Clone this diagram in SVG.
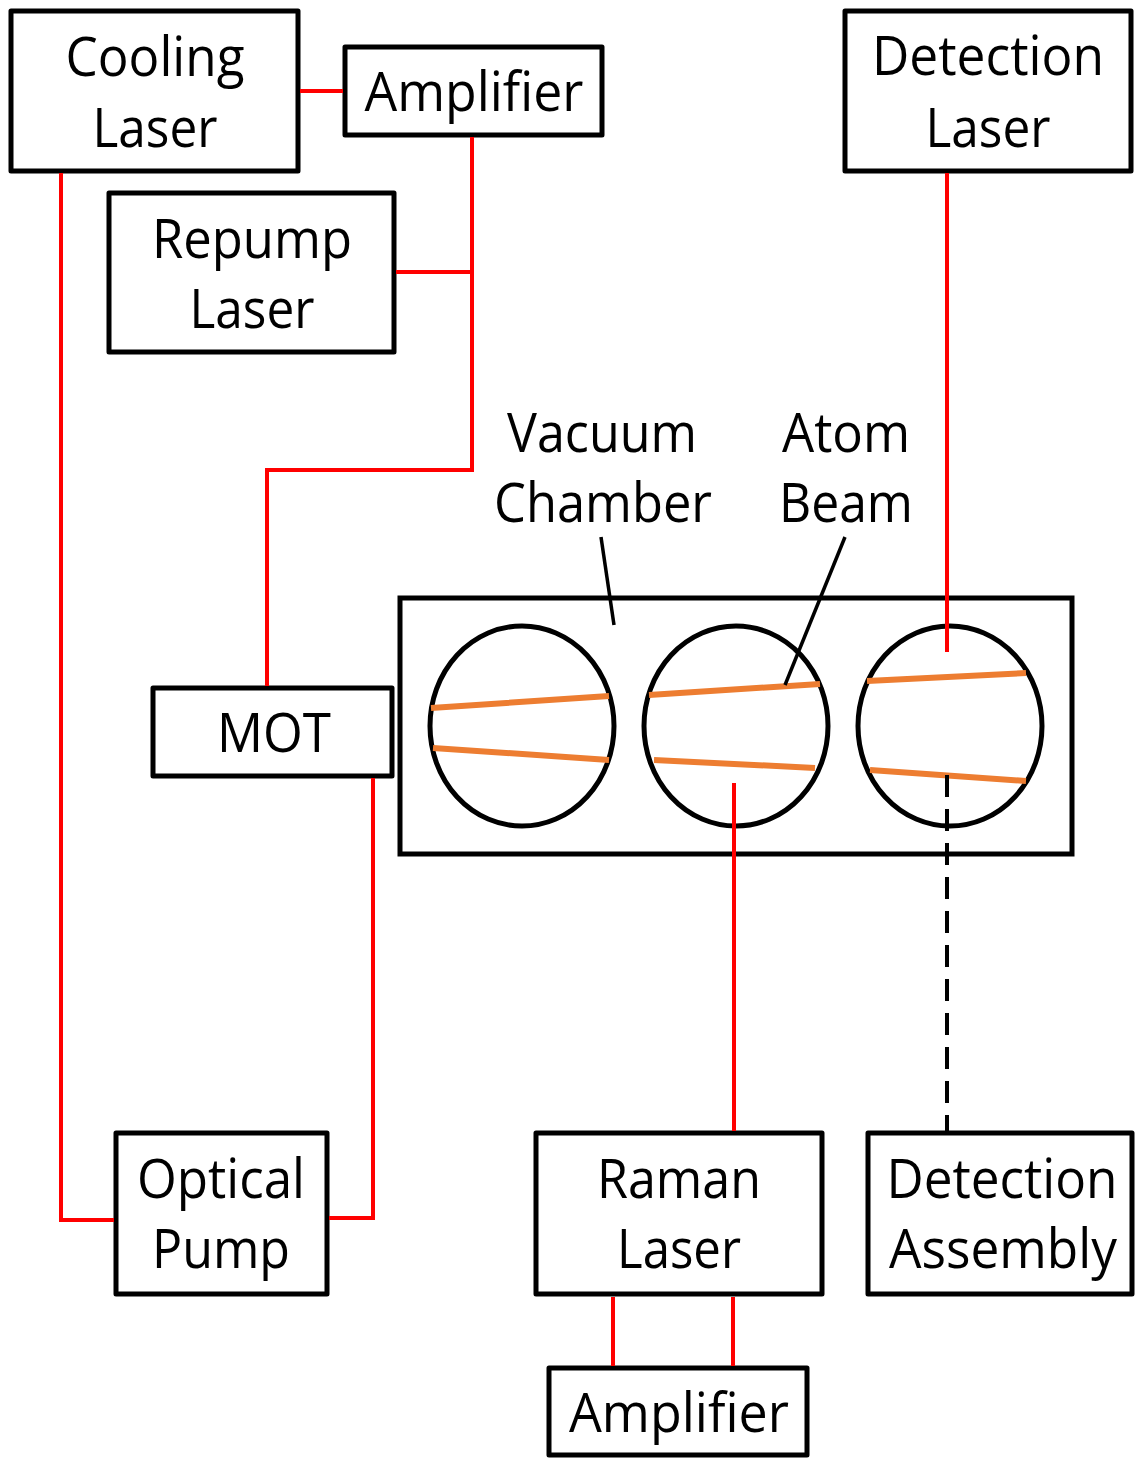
<svg xmlns="http://www.w3.org/2000/svg" width="1135" height="1458" viewBox="0 0 1135 1458">
<style>
.box{fill:#fff;stroke:#000;stroke-width:5;stroke-linejoin:round}
.t{font-family:"Open Sans","Noto Sans","Liberation Sans",sans-serif;font-size:54px;fill:#000;text-anchor:middle}
.red{fill:none;stroke:#f00;stroke-width:4}
.beam{stroke:#ED7D31;stroke-width:6;fill:none}
.lead{stroke:#000;stroke-width:3.5;fill:none}
.win{fill:none;stroke:#000;stroke-width:5}
</style>
<rect width="1135" height="1458" fill="#fff"/>
<g id="cooling-laser">
<rect class="box" x="11" y="11" width="287" height="160"/>
<text class="t" x="155" y="76" textLength="179" lengthAdjust="spacingAndGlyphs">Cooling</text>
<text class="t" x="155" y="147" textLength="125" lengthAdjust="spacingAndGlyphs">Laser</text>
</g>
<g id="amplifier-top">
<rect class="box" x="345" y="47" width="257" height="88"/>
<text class="t" x="474" y="111" textLength="219" lengthAdjust="spacingAndGlyphs">Amplifier</text>
</g>
<g id="repump-laser">
<rect class="box" x="109" y="193" width="285" height="159"/>
<text class="t" x="252" y="258" textLength="200" lengthAdjust="spacingAndGlyphs">Repump</text>
<text class="t" x="252" y="328" textLength="125" lengthAdjust="spacingAndGlyphs">Laser</text>
</g>
<g id="detection-laser">
<rect class="box" x="845" y="11" width="286" height="160"/>
<text class="t" x="988" y="75" textLength="232" lengthAdjust="spacingAndGlyphs">Detection</text>
<text class="t" x="988" y="147" textLength="125" lengthAdjust="spacingAndGlyphs">Laser</text>
</g>
<g id="mot">
<rect class="box" x="153" y="688" width="239" height="88"/>
<text class="t" x="274" y="752" textLength="114" lengthAdjust="spacingAndGlyphs">MOT</text>
</g>
<g id="vacuum-chamber">
<rect x="400" y="598" width="672" height="256" fill="none" stroke="#000" stroke-width="5"/>
<ellipse class="win" cx="522" cy="726" rx="92" ry="100"/>
<ellipse class="win" cx="736" cy="726" rx="92" ry="100"/>
<ellipse class="win" cx="950" cy="726" rx="92" ry="100"/>
<path class="beam" d="M431,708L609,696M433,748L609,760"/>
<path class="beam" d="M649,695L820,684M654,760L815,768"/>
<path class="beam" d="M867,681L1026,673M870,770L1026,781"/>
</g>
<g id="vacuum-chamber-label">
<text class="t" x="602" y="452" textLength="190" lengthAdjust="spacingAndGlyphs">Vacuum</text>
<text class="t" x="603" y="522" textLength="218" lengthAdjust="spacingAndGlyphs">Chamber</text>
<path class="lead" d="M601,537L614,625"/>
</g>
<g id="atom-beam-label">
<text class="t" x="846" y="452" textLength="128" lengthAdjust="spacingAndGlyphs">Atom</text>
<text class="t" x="846" y="522" textLength="134" lengthAdjust="spacingAndGlyphs">Beam</text>
<path class="lead" d="M845,537L785,685"/>
</g>
<g id="optical-pump">
<rect class="box" x="116" y="1133" width="211" height="161"/>
<text class="t" x="221" y="1198" textLength="168" lengthAdjust="spacingAndGlyphs">Optical</text>
<text class="t" x="221" y="1268" textLength="138" lengthAdjust="spacingAndGlyphs">Pump</text>
</g>
<g id="raman-laser">
<rect class="box" x="536" y="1133" width="286" height="161"/>
<text class="t" x="679" y="1198" textLength="164" lengthAdjust="spacingAndGlyphs">Raman</text>
<text class="t" x="679" y="1268" textLength="124" lengthAdjust="spacingAndGlyphs">Laser</text>
</g>
<g id="detection-assembly">
<rect class="box" x="868" y="1133" width="264" height="161"/>
<text class="t" x="1002" y="1198" textLength="231" lengthAdjust="spacingAndGlyphs">Detection</text>
<text class="t" x="1003" y="1268" textLength="228" lengthAdjust="spacingAndGlyphs">Assembly</text>
</g>
<g id="amplifier-bottom">
<rect class="box" x="549" y="1368" width="258" height="87"/>
<text class="t" x="679" y="1432" textLength="220" lengthAdjust="spacingAndGlyphs">Amplifier</text>
</g>
<g id="connectors">
<path class="red" d="M300,91H343"/>
<path class="red" d="M472,137V470H267V686"/>
<path class="red" d="M396,272H472"/>
<path class="red" d="M61,173V1220H114"/>
<path class="red" d="M373,778V1218H329"/>
<path class="red" d="M947,173V652"/>
<path class="red" d="M734,783V1131"/>
<path d="M947,775V1131" stroke="#000" stroke-width="4" stroke-dasharray="22,12" fill="none"/>
<path class="red" d="M613,1297V1366"/>
<path class="red" d="M733,1297V1366"/>
</g>
</svg>
